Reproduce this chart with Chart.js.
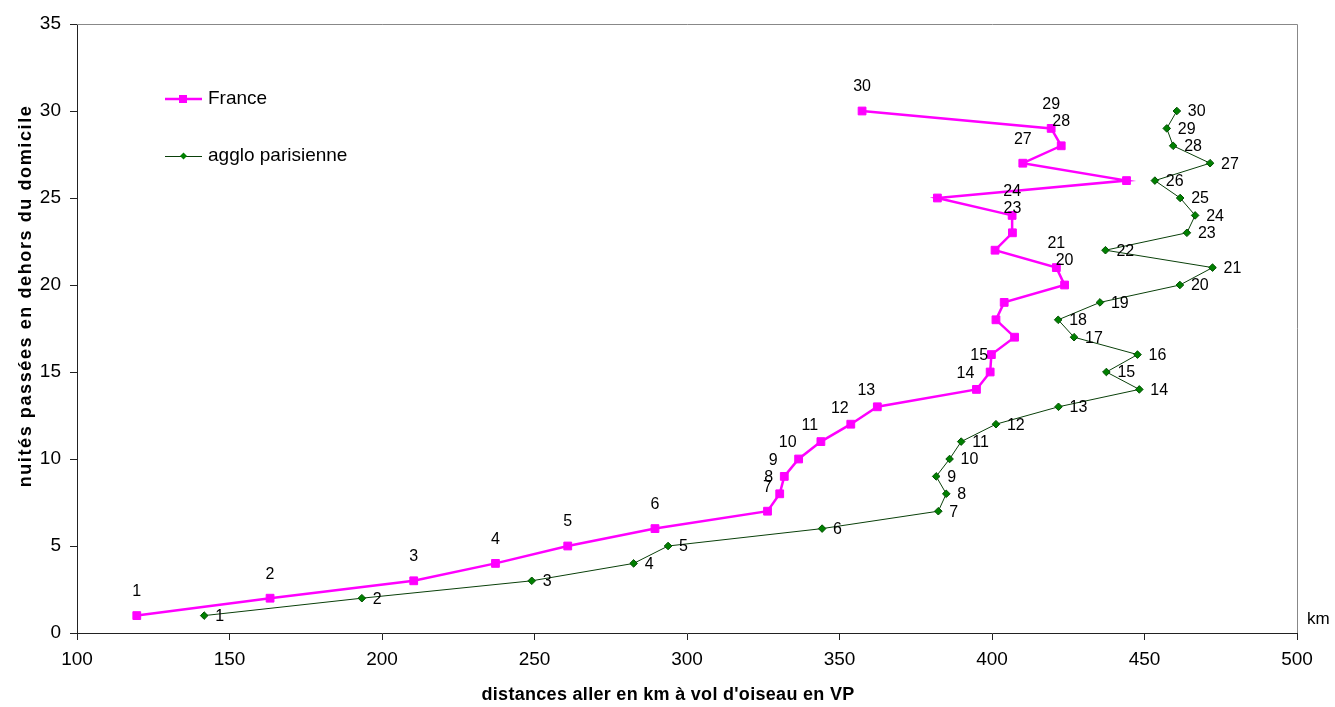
<!DOCTYPE html>
<html>
<head>
<meta charset="utf-8">
<script src="https://cdn.jsdelivr.net/npm/chart.js@4/dist/chart.umd.min.js"></script>
<style>
body { margin: 0; background: #fff; }
</style>
</head>
<body>
<canvas id="chart" width="1335" height="707"></canvas>
<script>
// nuits passees (1 a 30) et distance moyenne en km
var nights = [1, 2, 3, 4, 5, 6, 7, 8, 9, 10, 11, 12, 13, 14, 15, 16, 17, 18, 19, 20, 21, 22, 23, 24, 25, 26, 27, 28, 29, 30];
var franceKm = [119.6, 163.3, 210.4, 237.2, 260.9, 289.5, 326.4, 330.4, 331.9, 336.6, 343.9, 353.7, 362.4, 394.9, 399.4, 399.8, 407.4, 401.3, 404.0, 423.8, 421.1, 401.0, 406.7, 406.6, 382.1, 444.1, 410.1, 422.7, 419.4, 357.4];
var aggloKm = [141.7, 193.4, 249.1, 282.5, 293.8, 344.3, 382.4, 385.0, 381.7, 386.1, 389.9, 401.3, 421.8, 448.3, 437.5, 447.7, 426.9, 421.7, 435.4, 461.6, 472.3, 437.2, 463.9, 466.6, 461.7, 453.4, 471.5, 459.4, 457.3, 460.6];
var seriesNames = ["France", "agglo parisienne"];
var franceNoLabel = [16, 17, 18, 19, 22, 25, 26];

var FONT = "'Liberation Sans', Arial, sans-serif";
var PINK = "#FF00FF";
var GREEN = "#008000";
var GREEN_LINE = "#0a400a";

function pts(xs){
  var out = [];
  for (var i = 0; i < nights.length; i++) {
    out.push({x: xs[i], y: nights[i]});
  }
  return out;
}

var decor = {
  id: "decor",
  beforeDatasetsDraw: function(chart){
    var ctx = chart.ctx, a = chart.chartArea;
    ctx.save();
    ctx.strokeStyle = "#888";
    ctx.lineWidth = 1;
    ctx.beginPath();
    ctx.moveTo(a.left, a.top + 0.5);
    ctx.lineTo(a.right + 0.5, a.top + 0.5);
    ctx.lineTo(a.right + 0.5, a.bottom);
    ctx.stroke();
    ctx.restore();
  },
  afterDatasetsDraw: function(chart){
    var ctx = chart.ctx;
    ctx.save();
    ctx.fillStyle = "#000";
    ctx.font = "16px " + FONT;

    // etiquettes France : au-dessus du point
    var m0 = chart.getDatasetMeta(0);
    ctx.textAlign = "center";
    ctx.textBaseline = "middle";
    m0.data.forEach(function(p, i){
      var n = nights[i];
      if (franceNoLabel.indexOf(n) >= 0) return;
      var dx = 0, dy = -24;
      if (n >= 8 && n <= 15) { dx = -11; dy = -16; }
      ctx.fillText(String(n), p.x + dx, p.y + dy);
    });

    // etiquettes agglo : a droite
    var m1 = chart.getDatasetMeta(1);
    ctx.textAlign = "left";
    m1.data.forEach(function(p, i){
      ctx.fillText(String(nights[i]), p.x + 11, p.y + 1);
    });

    // legende
    ctx.font = "19px " + FONT;
    ctx.textBaseline = "middle";
    var lx = 165, ly = [99, 156];
    ctx.strokeStyle = PINK; ctx.lineWidth = 2.5;
    ctx.beginPath(); ctx.moveTo(lx, ly[0]); ctx.lineTo(lx + 37, ly[0]); ctx.stroke();
    ctx.fillStyle = PINK;
    ctx.fillRect(lx + 14, ly[0] - 4, 8, 8);
    ctx.strokeStyle = GREEN_LINE; ctx.lineWidth = 1;
    ctx.beginPath(); ctx.moveTo(lx, ly[1] + 0.5); ctx.lineTo(lx + 37, ly[1] + 0.5); ctx.stroke();
    ctx.fillStyle = GREEN;
    ctx.beginPath();
    ctx.moveTo(lx + 18.5, ly[1] - 3.5); ctx.lineTo(lx + 22, ly[1]);
    ctx.lineTo(lx + 18.5, ly[1] + 3.5); ctx.lineTo(lx + 15, ly[1]);
    ctx.closePath(); ctx.fill();
    ctx.fillStyle = "#000";
    ctx.fillText(seriesNames[0], lx + 43, ly[0]);
    ctx.fillText(seriesNames[1], lx + 43, ly[1]);
    ctx.restore();
  },
  afterDraw: function(chart){
    var ctx = chart.ctx;
    ctx.save();
    ctx.fillStyle = "#000";
    ctx.font = "bold 18px " + FONT;
    ctx.textAlign = "center";
    ctx.textBaseline = "middle";
    ctx.letterSpacing = "0.3px";
    ctx.fillText("distances aller en km à vol d'oiseau en VP", 668, 695);
    ctx.letterSpacing = "1.6px";
    ctx.translate(26, 296);
    ctx.rotate(-Math.PI / 2);
    ctx.fillText("nuités passées en dehors du domicile", 0, 0);
    ctx.restore();
    ctx.save();
    ctx.font = "17px " + FONT;
    ctx.textBaseline = "middle";
    ctx.fillStyle = "#000";
    ctx.fillText("km", 1307, 619);
    ctx.restore();
  }
};

var g = new Chart(document.getElementById("chart"), {
  type: "scatter",
  data: {
    datasets: [
      {
        label: seriesNames[0],
        data: pts(franceKm),
        showLine: true,
        borderColor: PINK,
        backgroundColor: PINK,
        borderWidth: 2.5,
        pointStyle: "rect",
        pointRadius: 5.5,
        pointBorderWidth: 1,
        tension: 0
      },
      {
        label: seriesNames[1],
        data: pts(aggloKm),
        showLine: true,
        borderColor: GREEN_LINE,
        backgroundColor: GREEN,
        borderWidth: 1,
        pointStyle: "rectRot",
        pointRadius: 3.8,
        pointBorderWidth: 1,
        pointBorderColor: "#005000",
        tension: 0
      }
    ]
  },
  options: {
    responsive: false,
    animation: false,
    layout: { padding: { top: 24, right: 38, left: 0, bottom: 0 } },
    plugins: {
      legend: { display: false },
      tooltip: { enabled: false }
    },
    scales: {
      x: {
        type: "linear",
        min: 100,
        max: 500,
        ticks: { stepSize: 50, color: "#000", font: { family: FONT, size: 19 }, padding: 8, maxRotation: 0 },
        grid: { drawOnChartArea: false, drawTicks: true, tickLength: 7, color: "#222" },
        border: { display: true, color: "#222", width: 1 },
        afterFit: function(s){ s.height = 74; }
      },
      y: {
        min: 0,
        max: 35,
        ticks: { stepSize: 5, color: "#000", font: { family: FONT, size: 19 }, padding: 9 },
        grid: { drawOnChartArea: false, drawTicks: true, tickLength: 7, color: "#222" },
        border: { display: true, color: "#222", width: 1 },
        afterFit: function(s){ s.width = 77; }
      }
    }
  },
  plugins: [decor]
});
</script>
</body>
</html>
